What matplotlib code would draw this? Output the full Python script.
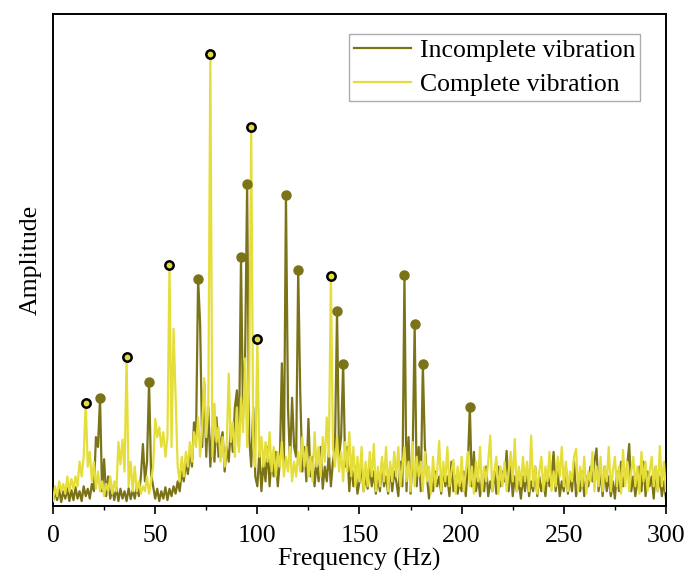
import matplotlib
matplotlib.use('Agg')
import matplotlib.pyplot as plt
from matplotlib.ticker import MultipleLocator
import numpy as np

plt.rcParams['font.family'] = ['Liberation Serif', 'DejaVu Serif']

# frequency bins, 1 Hz apart (0..300 Hz)
freq = np.arange(0, 301)

# amplitude, arbitrary units (axis top = 100)
incomplete = [
    1.0, 3.0, 1.2, 3.4, 0.8, 3.0, 1.5, 3.6, 1.0, 3.2,
    1.2, 3.8, 1.5, 3.0, 1.0, 4.0, 2.0, 3.5, 1.5, 4.5,
    3.0, 14.0, 12.0, 21.9, 3.0, 9.5, 2.0, 6.0, 1.5, 3.5,
    1.2, 3.8, 1.0, 3.5, 1.5, 3.0, 1.0, 3.6, 1.4, 3.2,
    1.5, 4.0, 2.0, 6.0, 12.6, 5.0, 9.0, 25.3, 6.5, 4.0,
    1.5, 3.5, 1.0, 3.0, 1.5, 3.8, 1.2, 3.5, 2.0, 4.0,
    2.5, 5.0, 3.0, 7.0, 5.0, 9.0, 6.5, 11.0, 8.0, 17.0,
    14.0, 46.2, 37.0, 12.0, 25.0, 10.0, 20.0, 8.0, 16.0, 9.0,
    18.0, 10.0, 13.0, 15.0, 7.0, 12.0, 9.0, 16.0, 11.0, 20.0,
    23.5, 12.0, 50.6, 18.0, 30.0, 65.4, 14.0, 8.0, 20.0, 6.0,
    4.0, 11.0, 3.0, 9.0, 5.0, 12.0, 4.0, 10.0, 6.0, 11.0,
    4.0, 9.0, 29.0, 8.0, 63.3, 20.0, 9.0, 22.0, 12.0, 10.0,
    48.0, 23.0, 7.0, 12.0, 5.0, 17.7, 6.0, 10.0, 4.0, 9.0,
    5.0, 12.0, 3.5, 8.0, 5.0, 11.0, 4.0, 9.0, 12.0, 39.7,
    10.0, 14.0, 28.9, 8.0, 12.0, 3.0, 9.0, 4.0, 8.0, 2.5,
    5.0, 8.0, 3.0, 6.0, 3.5, 8.5, 4.0, 7.0, 2.5, 6.0,
    3.0, 9.0, 4.0, 6.0, 2.5, 8.0, 3.0, 7.0, 5.0, 2.0,
    9.0, 4.0, 47.0, 3.0, 14.0, 2.5, 10.0, 36.9, 4.0, 12.0,
    3.0, 28.9, 12.0, 6.0, 1.5, 5.0, 3.0, 7.0, 4.0, 6.0,
    2.5, 8.0, 4.0, 6.0, 2.0, 9.0, 3.0, 6.0, 2.5, 5.0,
    3.0, 7.0, 2.0, 8.0, 20.2, 4.0, 11.0, 3.0, 6.0, 2.0,
    6.0, 3.0, 8.0, 2.0, 5.0, 3.0, 7.0, 2.5, 8.0, 4.0,
    7.0, 5.0, 11.2, 3.0, 8.0, 2.0, 6.0, 3.0, 5.0, 1.5,
    6.0, 3.0, 7.0, 2.0, 5.0, 3.0, 8.0, 2.0, 6.0, 3.0,
    5.0, 2.0, 7.0, 4.0, 6.0, 11.0, 3.0, 7.0, 2.0, 5.0,
    3.0, 8.0, 2.5, 6.0, 3.0, 9.0, 2.0, 5.0, 3.0, 7.0,
    2.0, 6.0, 4.0, 8.0, 5.0, 9.0, 11.7, 3.0, 7.0, 2.0,
    8.0, 3.0, 6.0, 2.0, 5.0, 1.5, 7.0, 3.0, 9.0, 4.0,
    6.0, 8.0, 12.6, 3.0, 6.0, 2.0, 5.0, 8.0, 3.0, 9.0,
    2.0, 7.0, 4.0, 6.0, 1.5, 8.0, 3.0, 6.0, 2.0, 5.0,
    1.5,
]

complete = [
    1.0, 4.0, 2.0, 5.0, 3.0, 4.5, 2.5, 6.0, 3.0, 5.5,
    3.5, 6.0, 4.0, 9.0, 6.0, 10.0, 21.0, 8.0, 11.0, 5.0,
    9.0, 3.5, 7.0, 3.0, 5.0, 2.0, 4.5, 3.0, 6.0, 2.5,
    5.0, 3.0, 13.0, 8.5, 13.5, 7.0, 30.2, 4.0, 9.0, 3.0,
    8.0, 3.0, 5.0, 2.5, 4.0, 3.0, 6.0, 2.5, 5.0, 8.0,
    17.7, 14.0, 16.0, 12.0, 15.0, 10.0, 14.0, 48.9, 12.0, 36.0,
    22.0, 8.0, 5.0, 10.0, 6.0, 11.0, 8.0, 13.0, 9.0, 15.0,
    12.0, 18.0, 10.0, 16.0, 26.0, 14.0, 20.0, 91.9, 10.0, 20.8,
    13.0, 16.0, 9.0, 14.0, 8.0, 12.0, 26.9, 13.0, 17.0, 10.0,
    20.0, 11.0, 22.0, 15.0, 30.0, 12.0, 25.0, 77.0, 12.0, 8.0,
    33.9, 10.0, 14.0, 8.0, 13.0, 9.0, 15.0, 7.0, 12.0, 6.0,
    11.0, 8.0, 13.0, 6.0, 10.0, 7.0, 12.0, 5.0, 9.0, 6.0,
    11.0, 7.0, 14.0, 8.0, 12.0, 6.0, 10.0, 5.0, 15.0, 8.0,
    12.0, 6.0, 14.0, 9.0, 18.0, 10.0, 46.7, 12.0, 8.0, 14.0,
    7.0, 11.0, 5.0, 13.0, 7.0, 15.0, 6.0, 12.0, 4.0, 10.0,
    5.0, 12.0, 3.0, 9.0, 4.0, 11.0, 6.0, 12.6, 3.0, 8.0,
    4.0, 10.0, 5.0, 12.0, 3.0, 9.0, 5.0, 11.0, 6.0, 12.0,
    4.0, 8.0, 12.0, 5.0, 9.0, 3.0, 13.0, 4.0, 10.0, 6.0,
    9.0, 3.0, 11.0, 5.0, 8.0, 2.5, 10.0, 4.0, 7.0, 13.2,
    3.0, 9.0, 5.0, 12.0, 4.0, 7.0, 9.4, 2.5, 8.0, 4.0,
    10.0, 3.0, 7.0, 11.0, 4.0, 8.0, 2.5, 9.0, 5.0, 12.0,
    3.0, 8.0, 5.0, 9.0, 14.3, 3.0, 7.0, 10.0, 2.5, 8.0,
    4.0, 9.0, 3.0, 7.0, 11.0, 5.0, 13.6, 3.0, 8.0, 4.0,
    10.0, 5.0, 9.0, 3.0, 14.3, 4.0, 8.0, 2.5, 7.0, 10.0,
    3.0, 8.0, 5.0, 11.0, 3.0, 7.0, 4.0, 10.0, 6.0, 12.0,
    4.0, 9.0, 3.0, 7.0, 5.0, 10.0, 11.6, 3.0, 8.0, 4.0,
    10.0, 2.5, 7.0, 5.0, 11.0, 3.0, 8.0, 4.0, 10.0, 3.0,
    8.0, 5.0, 12.0, 3.0, 7.0, 10.0, 4.0, 8.0, 2.5, 11.4,
    4.0, 9.0, 3.0, 7.0, 10.0, 4.0, 8.0, 2.5, 11.0, 5.0,
    9.0, 3.0, 7.0, 10.0, 4.0, 8.0, 3.0, 12.2, 4.0, 9.0,
    3.0,
]

# frequencies (Hz) of the marked peaks
incomplete_peaks = [23, 47, 71, 92, 95, 114, 120, 139, 142, 172, 177, 181, 204]
complete_peaks = [16, 36, 57, 77, 97, 100, 136]

olive = '#7b7318'
yellow = '#e5de3a'

fig = plt.figure(figsize=(6.86, 5.74), dpi=100)
ax = fig.add_axes([0.0773, 0.1185, 0.8935, 0.8571])

ax.plot(freq, incomplete, color=olive, lw=1.6, label='Incomplete vibration', zorder=2)
ax.plot(freq, complete, color=yellow, lw=1.6, label='Complete vibration', zorder=3)

inc = np.array(incomplete)
com = np.array(complete)
ax.plot(incomplete_peaks, inc[incomplete_peaks], 'o', ms=6.5,
        color=olive, zorder=4)
ax.plot(complete_peaks, com[complete_peaks], 'o', ms=6, mfc=yellow,
        mec='black', mew=1.8, zorder=5)

ax.set_xlim(0, 300)
ax.set_ylim(0, 100)
ax.xaxis.set_major_locator(MultipleLocator(50))
ax.xaxis.set_minor_locator(MultipleLocator(25))
ax.set_yticks([])
ax.tick_params(axis='x', which='major', direction='out', length=6, width=1.2,
               labelsize=18.5, pad=8)
ax.tick_params(axis='x', which='minor', direction='out', length=3, width=1.0)
for sp in ax.spines.values():
    sp.set_linewidth(1.4)

ax.set_xlabel('Frequency (Hz)', fontsize=18.5, labelpad=0.5)
ax.set_ylabel('Amplitude', fontsize=18.5, labelpad=8)

leg = ax.legend(loc='upper right', bbox_to_anchor=(0.958, 0.96), fontsize=18.5,
                frameon=True, fancybox=False, handlelength=2.2,
                handletextpad=0.35, borderpad=0.2, labelspacing=0.45,
                borderaxespad=0)
leg.get_frame().set_edgecolor('#999999')
leg.get_frame().set_linewidth(1.0)

plt.savefig('out.png', dpi=100)
